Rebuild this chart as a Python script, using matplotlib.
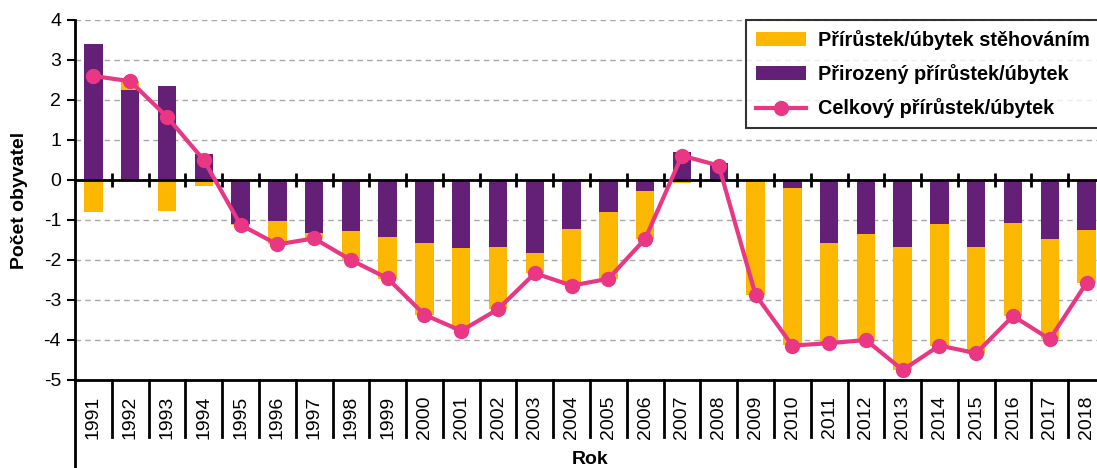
import matplotlib
matplotlib.use("Agg")
import matplotlib.pyplot as plt
import matplotlib.transforms as mtransforms
import numpy as np

years = [str(y) for y in range(1991, 2019)]
natural = [3.40, 2.25, 2.35, 0.65, -1.10, -1.03, -1.32, -1.28, -1.43, -1.58,
           -1.69, -1.67, -1.83, -1.23, -0.81, -0.28, 0.69, 0.42, -0.02, -0.19,
           -1.57, -1.36, -1.67, -1.11, -1.67, -1.07, -1.48, -1.25]
migration = [-0.79, 0.23, -0.77, -0.15, -0.02, -0.57, -0.14, -0.72, -1.04, -1.80,
             -2.07, -1.56, -0.50, -1.40, -1.66, -1.19, -0.08, -0.06, -2.86, -3.94,
             -2.50, -2.64, -3.08, -3.04, -2.67, -2.34, -2.50, -1.33]
total = [2.60, 2.47, 1.58, 0.50, -1.12, -1.61, -1.46, -2.00, -2.46, -3.37,
         -3.77, -3.23, -2.33, -2.64, -2.47, -1.47, 0.61, 0.36, -2.87, -4.14,
         -4.08, -4.00, -4.75, -4.14, -4.33, -3.40, -3.98, -2.57]
yticks = [4, 3, 2, 1, 0, -1, -2, -3, -4, -5]
labels = ["Přírůstek/úbytek stěhováním", "Přirozený přírůstek/úbytek",
          "Celkový přírůstek/úbytek"]

YELLOW = "#FCB700"
PURPLE = "#641F76"
PINK = "#E93784"

plt.rcParams['font.family'] = ['Liberation Sans', 'DejaVu Sans']

W, H = 1097, 468
fig = plt.figure(figsize=(W / 100, H / 100), dpi=100)
ax = fig.add_axes([75 / W, (H - 380) / H, 1030 / W, 360 / H])

x = np.arange(len(years))
nat = np.array(natural)
mig = np.array(migration)
mig_bottom = np.where(np.sign(mig) == np.sign(nat), nat, 0.0)

b_nat = ax.bar(x, nat, width=0.5, color=PURPLE, zorder=2)
b_mig = ax.bar(x, mig, width=0.5, bottom=mig_bottom, color=YELLOW, zorder=2)
ln, = ax.plot(x, total, color=PINK, lw=3, marker='o', ms=10, zorder=4)

ax.set_xlim(-0.5, len(years) - 0.5)
ax.set_ylim(-5, 4)
ax.set_yticks(yticks)
ax.set_yticklabels([str(v) for v in yticks], fontsize=14)
ax.tick_params(axis='y', direction='out', length=6, width=1.5, pad=4)
ax.set_xticks([])

for v in yticks:
    if v not in (0, -5):
        ax.axhline(v, color='#A8A8A8', lw=1.0, ls=(0, (4, 3)), zorder=1)
ax.axhline(0, color='black', lw=2, zorder=3)
bounds = np.arange(0.5, len(years) - 0.5, 1.0)
ax.plot(bounds, np.zeros_like(bounds), ls='none', marker='|', ms=10, mew=2,
        color='black', zorder=3)

for s in ['top', 'right']:
    ax.spines[s].set_visible(False)
ax.spines['left'].set_linewidth(2)
ax.spines['bottom'].set_linewidth(2)

trans = mtransforms.blended_transform_factory(ax.transData, ax.transAxes)
for i, yr in enumerate(years):
    ax.text(i, -0.1028, yr, rotation=90, ha='center', va='center', fontsize=14,
            transform=trans)
for b in np.arange(0.5, len(years) + 0.5, 1.0):
    ax.plot([b, b], [0, -0.158], color='black', lw=2, transform=trans, clip_on=False)
ax.plot([-0.5, -0.5], [0, -0.25], color='black', lw=2, transform=trans, clip_on=False)

ax.set_ylabel("Počet obyvatel", fontsize=14, fontweight='bold', labelpad=11)
fig.text(590 / W, 1 - 460 / H, "Rok", fontsize=14, fontweight='bold',
         ha='center', va='center')

leg = ax.legend([b_mig, b_nat, ln], labels,
                loc='upper left', bbox_to_anchor=(746 / W, 1 - 20 / H),
                bbox_transform=fig.transFigure, borderaxespad=0,
                prop={'weight': 'bold', 'size': 14.3}, frameon=True, fancybox=False,
                edgecolor='black', handlelength=2.5, handletextpad=0.6,
                labelspacing=0.72, borderpad=0.5)
leg.get_frame().set_linewidth(1.5)
leg.set_zorder(5)

fig.savefig("out.png", dpi=100)
